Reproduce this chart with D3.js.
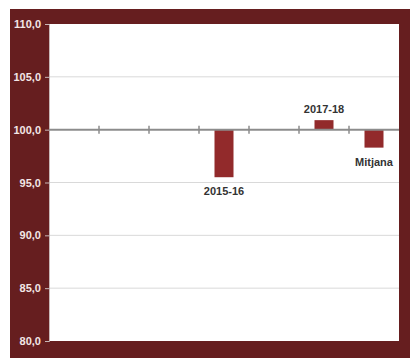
<!DOCTYPE html>
<html><head><meta charset="utf-8">
<script src="https://cdn.jsdelivr.net/npm/d3@7"></script>
<style>html,body{margin:0;padding:0;background:#fff;}svg{display:block;}</style>
</head><body>
<svg id="c" width="410" height="358"></svg>
<script>
const categories = ["2012-13","2013-14","2014-15","2015-16","2016-17","2017-18","Mitjana"];
const values = [null, null, null, 95.5, null, 100.9, 98.3];
const showLabel = [false, false, false, true, false, true, true];
const yTicks = [80, 85, 90, 95, 100, 105, 110];
const baseline = 100;

const svg = d3.select("#c");
const W = 410, H = 358;
const frame = {x: 10, y: 9, w: 400, h: 349};
const m = {left: 49, top: 24, right: 399, bottom: 341};

svg.append("rect").attr("x", frame.x).attr("y", frame.y).attr("width", frame.w).attr("height", frame.h).attr("fill", "#661e1f");
svg.append("rect").attr("x", m.left).attr("y", m.top).attr("width", m.right - m.left).attr("height", m.bottom - m.top).attr("fill", "#fff");

const x = d3.scaleBand().domain(categories).range([m.left, m.right]).paddingInner(0.6).paddingOuter(0.3);
const xb = d3.scaleBand().domain(categories).range([m.left, m.right]);
const y = d3.scaleLinear().domain([80, 110]).range([m.bottom, m.top]);

// gridlines
svg.append("g").selectAll("line").data(yTicks.filter(t => t !== 80 && t !== 110 && t !== baseline)).join("line")
  .attr("x1", m.left).attr("x2", m.right).attr("y1", d => y(d)).attr("y2", d => y(d))
  .attr("stroke", "#d9d9d9").attr("stroke-width", 1);

// y axis
const yAxis = d3.axisLeft(y).tickValues(yTicks).tickFormat(d => d3.format(".1f")(d).replace(".", ",")).tickSize(4).tickPadding(4);
const gy = svg.append("g").attr("transform", `translate(${m.left},0)`).call(yAxis);
gy.select(".domain").attr("stroke", "#c8b8b8");
gy.selectAll(".tick line").attr("stroke", "#c8b8b8");
gy.selectAll("text").attr("fill", "#f3e6e6").attr("font-family", "Liberation Sans, Arial, sans-serif").attr("font-size", 11).attr("font-weight", "bold");

// bars
const bw = 19;
svg.append("g").selectAll("rect").data(categories.map((c, i) => ({c, v: values[i], l: showLabel[i]})).filter(d => d.v !== null)).join("rect")
  .attr("x", d => xb(d.c) + xb.bandwidth() / 2 - bw / 2)
  .attr("width", bw)
  .attr("y", d => y(Math.max(d.v, baseline)))
  .attr("height", d => Math.abs(y(d.v) - y(baseline)))
  .attr("fill", "#922a2b");

// x axis at 100
const xAxis = d3.axisBottom(xb).tickValues(categories.slice(1)).tickFormat("").tickSize(0);
const gx = svg.append("g").attr("transform", `translate(0,${y(baseline)})`);
gx.append("line").attr("x1", m.left).attr("x2", m.right).attr("y1", 0).attr("y2", 0).attr("stroke", "#8c8c8c").attr("stroke-width", 2);
gx.selectAll("line.tk").data(categories.slice(1)).join("line").attr("class", "tk")
  .attr("x1", d => xb(d)).attr("x2", d => xb(d)).attr("y1", -4).attr("y2", 4)
  .attr("stroke", "#8c8c8c").attr("stroke-width", 1.5);

// labels
svg.append("g").selectAll("text").data(categories.map((c, i) => ({c, v: values[i], l: showLabel[i]})).filter(d => d.v !== null && d.l)).join("text")
  .attr("x", d => xb(d.c) + xb.bandwidth() / 2)
  .attr("y", d => d.v >= baseline ? y(d.v) - 7 : y(d.v) + 18)
  .attr("text-anchor", "middle")
  .attr("font-family", "Liberation Sans, Arial, sans-serif").attr("font-size", 11).attr("font-weight", "bold")
  .attr("fill", "#333")
  .text(d => d.c);
</script>
</body></html>
